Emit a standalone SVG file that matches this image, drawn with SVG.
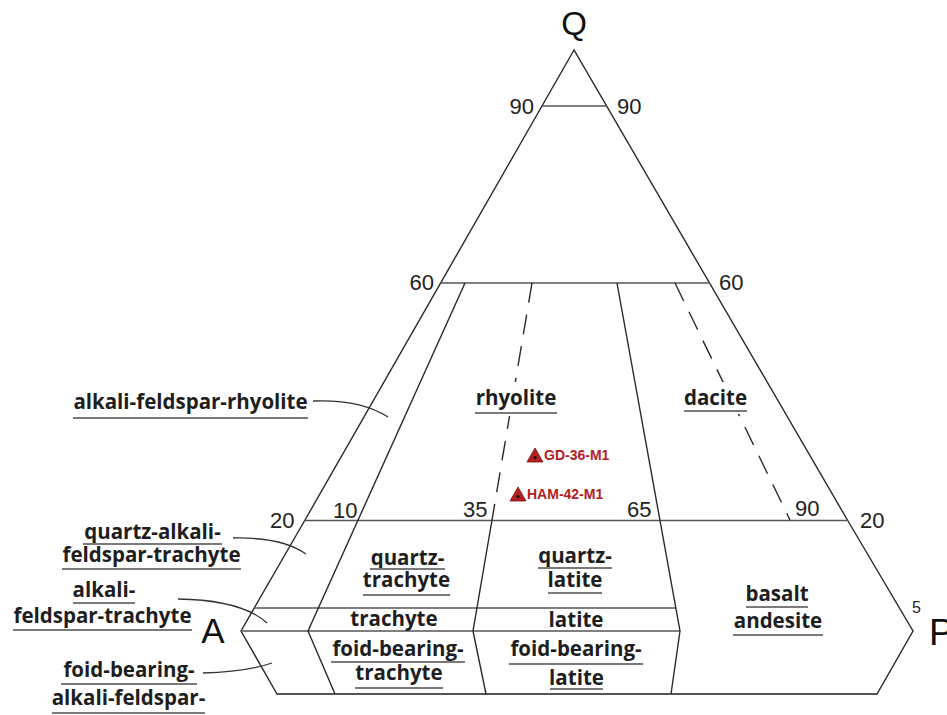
<svg xmlns="http://www.w3.org/2000/svg" width="947" height="715" viewBox="0 0 947 715">
<style>
.ln{fill:none;stroke:#2a2a2a;stroke-width:1.4;stroke-linejoin:miter}
.hz{fill:none;stroke:#555;stroke-width:1.6}
.ds{fill:none;stroke:#2a2a2a;stroke-width:1.4;stroke-dasharray:20 12}
.ld{fill:none;stroke:#333;stroke-width:1.3}
.num{font-family:"Liberation Sans",Arial,sans-serif;font-size:22px;fill:#222}
.sm{font-family:"Liberation Sans",Arial,sans-serif;font-size:16px;fill:#222}
.big{font-family:"Liberation Sans",Arial,sans-serif;fill:#111}
.lb{font-family:"Open Sans","Noto Sans",sans-serif;font-weight:bold;font-size:20.5px;fill:#1e1e1e;text-anchor:middle}
.ul{stroke:#7a7a7a;stroke-width:2}
.pt{fill:#b3201f;stroke:#7a1010;stroke-width:0.8}
.pl{font-family:"Liberation Sans",Arial,sans-serif;font-weight:bold;font-size:14px;fill:#b3201f}
</style>
<rect width="947" height="715" fill="#fff"/>
<g id="frame">
<polygon class="ln" points="574,50 305,520 241,631 277,694 877,694 913,631 848,521"/>
<line class="hz" x1="542" y1="106" x2="607" y2="106"/>
<line class="hz" x1="440" y1="283" x2="710" y2="283"/>
<line class="hz" x1="305" y1="520.5" x2="848" y2="520.5"/>
<line class="hz" x1="254" y1="608" x2="676" y2="608"/>
<line class="hz" x1="241" y1="631" x2="680" y2="631"/>
<line class="hz" x1="277" y1="694" x2="877" y2="694"/>
</g>
<g id="connectors">
<polyline class="ln" points="465,283 308,631 335,694"/>
<line class="ds" x1="532" y1="283" x2="492" y2="520"/>
<polyline class="ln" points="492,520 473,631 486,694"/>
<polyline class="ln" points="617,283 680,631 671,694"/>
<line class="ds" x1="675" y1="283" x2="790" y2="520"/>
<path class="ld" d="M313,401 Q360,399 388,417"/>
<path class="ld" d="M233,538 Q282,537 306,554"/>
<path class="ld" d="M178,599 Q242,600 267,623"/>
<path class="ld" d="M203,673 Q246,672 272,663"/>
</g>
<g id="apex-labels">
<text class="big" x="574" y="35" font-size="33" text-anchor="middle">Q</text>
<text class="big" x="213" y="643" font-size="35" text-anchor="middle">A</text>
<text class="big" x="929" y="645" font-size="37">P</text>
<text class="sm" x="912" y="613">5</text>
</g>
<g id="ticks">
<text class="num" x="534" y="114" text-anchor="end">90</text>
<text class="num" x="617" y="114">90</text>
<text class="num" x="434" y="290" text-anchor="end">60</text>
<text class="num" x="719" y="290">60</text>
<text class="num" x="270" y="528">20</text>
<text class="num" x="333" y="518">10</text>
<text class="num" x="463" y="517">35</text>
<text class="num" x="627" y="517">65</text>
<text class="num" x="795" y="516">90</text>
<text class="num" x="860" y="528">20</text>
</g>
<g id="afr"><text class="lb" x="190.5" y="409">alkali-feldspar-rhyolite</text><line class="ul" x1="73" y1="418" x2="308" y2="418"/></g>
<g id="rhyolite"><rect x="472" y="382" width="88" height="34" fill="#fff"/><text class="lb" x="516" y="405">rhyolite</text><line class="ul" x1="475" y1="413" x2="557" y2="413"/></g>
<g id="dacite"><rect x="681" y="382" width="70" height="32" fill="#fff"/><text class="lb" x="715.5" y="405">dacite</text><line class="ul" x1="684" y1="411" x2="747" y2="411"/></g>
<g id="qaft"><text class="lb" x="152.5" y="539">quartz-alkali-</text><line class="ul" x1="83" y1="544" x2="222" y2="544"/><text class="lb" x="151.5" y="562">feldspar-trachyte</text><line class="ul" x1="62" y1="569" x2="241" y2="569"/></g>
<g id="aft"><text class="lb" x="104" y="597">alkali-</text><line class="ul" x1="73" y1="603" x2="135" y2="603"/><text class="lb" x="102.5" y="623">feldspar-trachyte</text><line class="ul" x1="13" y1="630" x2="192" y2="630"/></g>
<g id="fbaf"><text class="lb" x="129" y="677">foid-bearing-</text><line class="ul" x1="61" y1="684" x2="197" y2="684"/><text class="lb" x="128.5" y="705">alkali-feldspar-</text><line class="ul" x1="52" y1="713" x2="205" y2="713"/></g>
<g id="qt"><text class="lb" x="407.5" y="565">quartz-</text><line class="ul" x1="370" y1="569" x2="445" y2="569"/><text class="lb" x="406.5" y="587">trachyte</text><line class="ul" x1="363" y1="595" x2="450" y2="595"/></g>
<g id="trachyte"><text class="lb" x="394" y="626">trachyte</text></g>
<g id="fbt"><text class="lb" x="398" y="656">foid-bearing-</text><line class="ul" x1="331" y1="662" x2="465" y2="662"/><text class="lb" x="399" y="680">trachyte</text><line class="ul" x1="355" y1="688" x2="443" y2="688"/></g>
<g id="ql"><text class="lb" x="575" y="563">quartz-</text><line class="ul" x1="538" y1="568" x2="612" y2="568"/><text class="lb" x="575" y="587">latite</text><line class="ul" x1="548" y1="593" x2="602" y2="593"/></g>
<g id="latite"><text class="lb" x="576" y="627">latite</text></g>
<g id="fbl"><text class="lb" x="576" y="656">foid-bearing-</text><line class="ul" x1="509" y1="664" x2="643" y2="664"/><text class="lb" x="576.5" y="685">latite</text><line class="ul" x1="550" y1="689" x2="603" y2="689"/></g>
<g id="ba"><text class="lb" x="777" y="601">basalt</text><line class="ul" x1="746" y1="607" x2="808" y2="607"/><text class="lb" x="778" y="628">andesite</text><line class="ul" x1="733" y1="635" x2="823" y2="635"/></g>
<g id="gd36"><polygon class="pt" points="527,462 535,448 543,462"/><circle cx="535" cy="457.5" r="1.6" fill="#111"/><text class="pl" x="544" y="460">GD-36-M1</text></g>
<g id="ham42"><polygon class="pt" points="510,501 518,487 526,501"/><circle cx="518" cy="496.5" r="1.6" fill="#111"/><text class="pl" x="527" y="499">HAM-42-M1</text></g>
</svg>
